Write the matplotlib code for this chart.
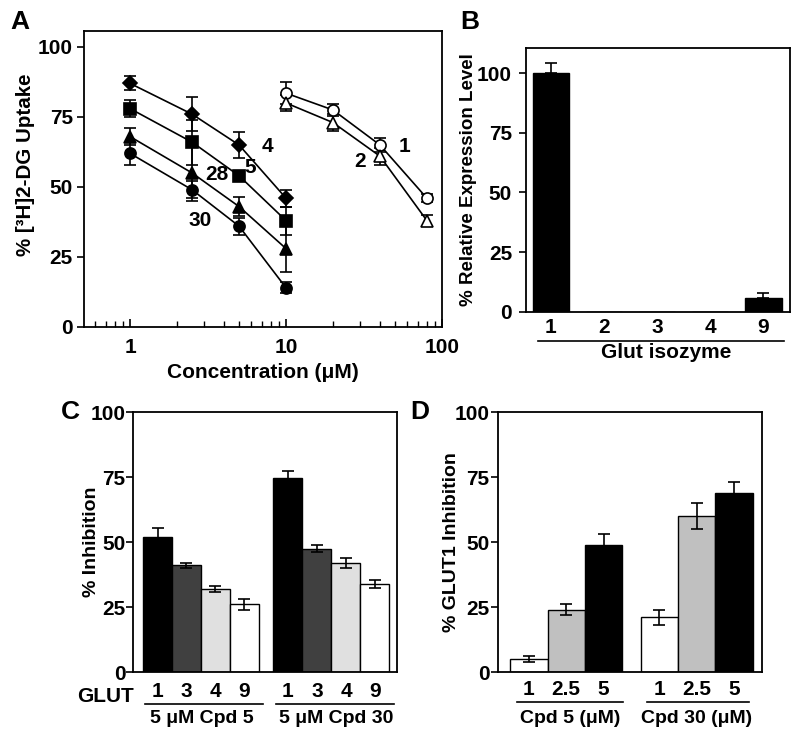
import numpy as np
import matplotlib
matplotlib.use('Agg')
import matplotlib.pyplot as plt

plt.rcParams['font.family'] = ['Liberation Sans', 'DejaVu Sans']
plt.rcParams['font.weight'] = 'bold'
plt.rcParams['axes.labelweight'] = 'bold'

# ---- panel A data: uptake vs concentration
conc_a = [1, 2.5, 5, 10]
cpd4 = [87, 76, 65, 46]
cpd4_err = [2.5, 6, 4.5, 3]
cpd5 = [78, 66, 54, 38]
cpd5_err = [3, 8, 1, 5]
cpd28 = [68, 55, 43, 28]
cpd28_err = [3, 10, 3.5, 8.5]
cpd30 = [62, 49, 36, 14]
cpd30_err = [4, 3, 3, 2]
conc_b = [10, 20, 40, 80]
cpd1 = [83.5, 77.5, 65, 46]
cpd1_err = [4, 2, 2.5, 1.5]
cpd2 = [80, 73, 61, 38]
cpd2_err = [3, 3, 3, 2]

# ---- panel B data: relative expression
iso_labels = ['1', '2', '3', '4', '9']
expr = [100, 0, 0, 0, 6]
expr_err = [4, 0, 0, 0, 1.8]

# ---- panel C data: % inhibition, 5 uM cpd 5 / cpd 30
glut_labels = ['1', '3', '4', '9']
inh_cpd5 = [52, 41, 32, 26]
inh_cpd5_err = [3.5, 1, 1.2, 2]
inh_cpd30 = [74.5, 47.5, 42, 34]
inh_cpd30_err = [3, 1.5, 2, 1.5]
c_colors = ['black', '#404040', '#e0e0e0', 'white']

# ---- panel D data: GLUT1 inhibition dose
dose_labels = ['1', '2.5', '5']
g1_cpd5 = [5, 24, 49]
g1_cpd5_err = [1, 2, 4]
g1_cpd30 = [21, 60, 69]
g1_cpd30_err = [3, 5, 4]
d_colors = ['white', '#c0c0c0', 'black']

fs = 15
lfs = 14
fig = plt.figure(figsize=(8, 7.33), dpi=100)

def style(ax, ypad):
    for s in ax.spines.values():
        s.set_linewidth(1.3)
    ax.tick_params(axis='y', direction='out', length=5, width=1.2, labelsize=fs, pad=ypad)

# ================= A
ax = fig.add_axes([0.105, 0.5539, 0.4475, 0.4038])
style(ax, 3)
ax.set_xscale('log')
ax.set_xlim(0.507, 100)
ax.set_ylim(0, 105.7)
series = [(conc_a, cpd4, cpd4_err, 'D', 'black', 7),
          (conc_a, cpd5, cpd5_err, 's', 'black', 8),
          (conc_a, cpd28, cpd28_err, '^', 'black', 8),
          (conc_a, cpd30, cpd30_err, 'o', 'black', 8),
          (conc_b, cpd1, cpd1_err, 'o', 'white', 8),
          (conc_b, cpd2, cpd2_err, '^', 'white', 8)]
for x, y, e, m, fc, ms in series:
    ax.errorbar(x, y, yerr=e, fmt='-', color='black', lw=1.2, capsize=4,
                elinewidth=1.2, capthick=1.2, marker=m, mfc=fc, mec='black',
                ms=ms, mew=1.2)
ax.set_yticks([0, 25, 50, 75, 100])
ax.set_xticks([1, 10, 100])
ax.set_xticklabels(['1', '10', '100'])
ax.tick_params(axis='x', which='major', direction='in', length=6, width=1.2, labelsize=fs, pad=8)
ax.tick_params(axis='x', which='minor', direction='in', length=4, width=1.0)
ax.set_xlabel('Concentration (μM)', fontsize=fs, labelpad=4)
ax.set_ylabel('% [³H]2-DG Uptake', fontsize=14.8)
ax.yaxis.set_label_coords(-0.137, 0.547)
for txt, tx, ty in [('4', 7.55, 64.3), ('5', 5.88, 56.8), ('28', 3.6, 54.3),
                    ('30', 2.81, 38.2), ('1', 57.9, 64.3), ('2', 29.8, 59)]:
    ax.text(tx, ty, txt, fontsize=fs, fontweight='bold', ha='center', va='center')

# ================= B
ax = fig.add_axes([0.6575, 0.5744, 0.33, 0.3602])
style(ax, 5)
xb = np.arange(len(iso_labels))
ax.bar(xb, expr, width=0.68, color='black', edgecolor='black')
for i in range(len(xb)):
    if expr_err[i] > 0:
        ax.errorbar(xb[i], expr[i], yerr=[[0], [expr_err[i]]], fmt='none',
                    ecolor='black', capsize=4, elinewidth=1.2, capthick=1.2)
ax.set_xlim(-0.47, 4.5)
ax.set_ylim(0, 110.5)
ax.set_yticks([0, 25, 50, 75, 100])
ax.set_xticks(xb)
ax.set_xticklabels(iso_labels)
ax.tick_params(axis='x', length=0, labelsize=fs, pad=4)
ax.set_ylabel('% Relative Expression Level', fontsize=13.5)
ax.yaxis.set_label_coords(-0.186, 0.5)
tr = ax.get_xaxis_transform()
ax.plot([-0.25, 4.38], [-0.11, -0.11], color='black', lw=1.2, transform=tr, clip_on=False)
ax.text(2.17, -0.155, 'Glut isozyme', fontsize=fs, ha='center', va='center', transform=tr)

# ================= C
ax = fig.add_axes([0.16625, 0.0832, 0.33, 0.3547])
style(ax, 0.5)
xc1 = np.arange(4)
xc2 = np.arange(4) + 4.5
ax.bar(xc1, inh_cpd5, width=1.0, color=c_colors, edgecolor='black', lw=1)
ax.bar(xc2, inh_cpd30, width=1.0, color=c_colors, edgecolor='black', lw=1)
ax.errorbar(xc1, inh_cpd5, yerr=inh_cpd5_err, fmt='none', ecolor='black',
            capsize=4, elinewidth=1.2, capthick=1.2)
ax.errorbar(xc2, inh_cpd30, yerr=inh_cpd30_err, fmt='none', ecolor='black',
            capsize=4, elinewidth=1.2, capthick=1.2)
ax.set_xlim(-0.845, 8.26)
ax.set_ylim(0, 100)
ax.set_yticks([0, 25, 50, 75, 100])
ax.set_xticks(list(xc1) + list(xc2))
ax.set_xticklabels(glut_labels + glut_labels)
ax.tick_params(axis='x', length=0, labelsize=fs, pad=7)
ax.set_ylabel('% Inhibition', fontsize=lfs)
ax.yaxis.set_label_coords(-0.125, 0.5)
tr = ax.get_xaxis_transform()
ax.text(-1.78, -0.095, 'GLUT', fontsize=fs, ha='center', va='center', transform=tr, clip_on=False)
ax.plot([-0.43, 3.64], [-0.123, -0.123], color='black', lw=1.2, transform=tr, clip_on=False)
ax.plot([4.09, 8.16], [-0.123, -0.123], color='black', lw=1.2, transform=tr, clip_on=False)
ax.text(1.53, -0.177, '5 μM Cpd 5', fontsize=lfs, ha='center', va='center', transform=tr)
ax.text(6.16, -0.177, '5 μM Cpd 30', fontsize=lfs, ha='center', va='center', transform=tr)

# ================= D
ax = fig.add_axes([0.6225, 0.0832, 0.33, 0.3547])
style(ax, 1)
xd1 = np.arange(3)
xd2 = np.arange(3) + 3.5
ax.bar(xd1, g1_cpd5, width=1.0, color=d_colors, edgecolor='black', lw=1)
ax.bar(xd2, g1_cpd30, width=1.0, color=d_colors, edgecolor='black', lw=1)
ax.errorbar(xd1, g1_cpd5, yerr=g1_cpd5_err, fmt='none', ecolor='black',
            capsize=4, elinewidth=1.2, capthick=1.2)
ax.errorbar(xd2, g1_cpd30, yerr=g1_cpd30_err, fmt='none', ecolor='black',
            capsize=4, elinewidth=1.2, capthick=1.2)
ax.set_xlim(-0.83, 6.25)
ax.set_ylim(0, 100)
ax.set_yticks([0, 25, 50, 75, 100])
ax.set_xticks(list(xd1) + list(xd2))
ax.set_xticklabels(dose_labels + dose_labels)
ax.tick_params(axis='x', length=0, labelsize=fs, pad=6)
ax.set_ylabel('% GLUT1 Inhibition', fontsize=lfs)
ax.yaxis.set_label_coords(-0.144, 0.5)
tr = ax.get_xaxis_transform()
ax.plot([-0.32, 2.52], [-0.115, -0.115], color='black', lw=1.2, transform=tr, clip_on=False)
ax.plot([3.16, 5.9], [-0.115, -0.115], color='black', lw=1.2, transform=tr, clip_on=False)
ax.text(1.1, -0.177, 'Cpd 5 (μM)', fontsize=lfs, ha='center', va='center', transform=tr)
ax.text(4.5, -0.177, 'Cpd 30 (μM)', fontsize=lfs, ha='center', va='center', transform=tr)

# panel letters
for lab, px, py in [('A', 20, 22), ('B', 470, 22), ('C', 70, 412), ('D', 420, 412)]:
    fig.text(px / 800, 1 - py / 733, lab, fontsize=19, fontweight='bold', ha='center', va='center')

fig.savefig('out.png', dpi=100)
